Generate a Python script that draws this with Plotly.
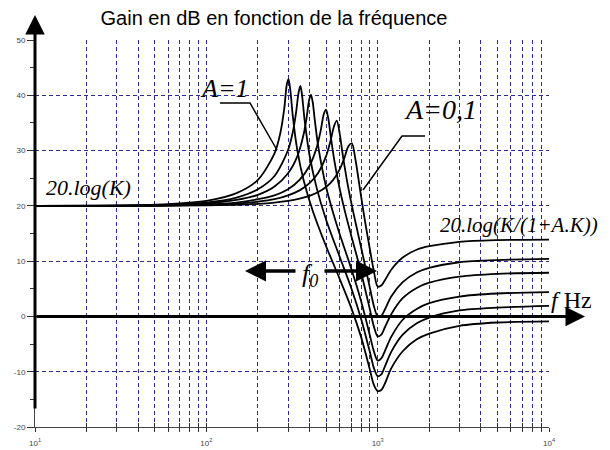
import plotly.graph_objects as go

# Gain curves (dB) versus frequency (Hz), K = 10, f0 = 1000 Hz
freq_a1 = [10, 50, 100, 150, 200, 250, 270, 285, 295, 302, 310, 320, 340, 370, 420, 500, 600, 700,
           800, 900, 950, 1000, 1050, 1100, 1200, 1400, 1700, 2000, 3000, 5000, 10000]
gain_a1 = [20.0, 20.2, 20.9, 22.3, 24.7, 29.5, 33.1, 37.6, 42.0, 42.9, 40.6, 36.1, 30.0, 24.6, 18.9, 12.7, 6.8, 1.6,
           -3.7, -9.6, -12.4, -13.5, -13.3, -12.2, -9.4, -6.3, -4.1, -3.1, -1.7, -1.1, -0.9]

freq_a07 = [10, 50, 100, 150, 200, 250, 300, 320, 335, 345, 354, 362, 375, 400, 440, 500, 600, 700,
            800, 900, 950, 1000, 1050, 1100, 1200, 1400, 1700, 2000, 3000, 5000, 10000]
gain_a07 = [20.0, 20.15, 20.6, 21.5, 23.0, 25.4, 30.1, 33.4, 37.2, 40.4, 41.7, 40.0, 35.4, 29.2, 23.3, 17.5, 10.8, 5.2,
            -0.4, -6.4, -9.3, -10.8, -10.5, -9.1, -6.4, -3.3, -1.2, -0.2, 1.1, 1.6, 1.9]

freq_a05 = [10, 50, 100, 150, 200, 250, 300, 340, 370, 385, 398, 408, 418, 430, 450, 500, 550, 600, 700,
            800, 900, 950, 1000, 1050, 1100, 1200, 1400, 1700, 2000, 3000, 5000, 10000]
gain_a05 = [20.0, 20.1, 20.45, 21.1, 22.0, 23.5, 25.9, 29.0, 33.0, 36.0, 39.1, 40.1, 38.7, 35.4, 30.7, 23.4, 18.7, 14.9, 8.7,
            2.8, -3.4, -6.3, -8.0, -7.6, -6.3, -3.7, -0.6, 1.4, 2.4, 3.6, 4.15, 4.4]

freq_a03 = [10, 50, 100, 150, 200, 250, 300, 350, 400, 440, 465, 485, 500, 515, 535, 560, 600, 650, 700,
            800, 900, 950, 1000, 1050, 1100, 1200, 1400, 1700, 2000, 3000, 5000, 10000]
gain_a03 = [20.0, 20.05, 20.27, 20.6, 21.2, 21.9, 23.0, 24.7, 27.2, 30.5, 33.6, 36.6, 37.4, 35.8, 32.1, 28.0, 23.1, 18.5, 14.7,
            8.0, 1.3, -1.8, -3.6, -3.3, -2.0, 0.4, 3.3, 5.2, 6.1, 7.2, 7.7, 7.9]

freq_a02 = [10, 50, 100, 150, 200, 250, 300, 350, 400, 450, 500, 530, 555, 577, 600, 625, 660, 700, 750,
            800, 850, 900, 950, 1000, 1050, 1100, 1200, 1400, 1700, 2000, 3000, 5000, 10000]
gain_a02 = [20.0, 20.04, 20.18, 20.4, 20.75, 21.2, 21.9, 22.8, 24.1, 26.0, 29.0, 31.7, 34.3, 35.4, 33.1, 29.3, 24.8, 20.7, 16.4,
            12.5, 8.8, 5.2, 1.9, 0.0, 0.1, 1.2, 3.6, 6.2, 8.0, 8.8, 9.8, 10.2, 10.4]

freq_a01 = [10, 50, 100, 150, 200, 250, 300, 350, 400, 450, 500, 550, 600, 640, 675, 707, 740, 780, 820,
            860, 900, 950, 1000, 1050, 1100, 1200, 1400, 1700, 2000, 3000, 5000, 10000]
gain_a01 = [20.0, 20.02, 20.09, 20.2, 20.37, 20.6, 20.9, 21.3, 21.8, 22.5, 23.4, 24.7, 26.6, 28.7, 30.8, 31.3, 28.6, 24.0, 19.6,
            15.7, 12.2, 8.2, 5.4, 5.6, 6.5, 8.45, 10.65, 12.1, 12.7, 13.5, 13.8, 13.9]

curves = [(freq_a1, gain_a1), (freq_a07, gain_a07), (freq_a05, gain_a05),
          (freq_a03, gain_a03), (freq_a02, gain_a02), (freq_a01, gain_a01)]

# Axis ticks / grid
decades = [10, 100, 1000, 10000]
grid_freqs = [m * d for d in [10, 100, 1000] for m in range(1, 10)] + [10000]
grid_text = ["10<sup>%d</sup>" % len(str(f)[1:]) if f in decades else "" for f in grid_freqs]
y_ticks = [-20, -10, 0, 10, 20, 30, 40, 50]

GRID = "#2c2c94"
SERIF = "Liberation Serif"

fig = go.Figure()
for f, g in curves:
    fig.add_trace(go.Scatter(x=f, y=g, mode="lines", line=dict(color="black", width=1.8, shape="spline", smoothing=0.8),
                             hoverinfo="skip", showlegend=False))

# second x axis only to draw the upper half of the crossing ticks
fig.add_trace(go.Scatter(x=[10, 10000], y=[None, None], xaxis="x2", showlegend=False, hoverinfo="skip"))

fig.update_layout(
    width=610, height=450,
    margin=dict(l=35, r=61, t=40, b=23),
    paper_bgcolor="white", plot_bgcolor="white",
    showlegend=False,
    title=dict(text="Gain en dB en fonction de la fréquence", x=274 / 610, xanchor="center",
               y=1 - 18 / 450, yanchor="middle", font=dict(family="Liberation Sans", size=20, color="black")),
    xaxis=dict(type="log", range=[1, 4], tickvals=grid_freqs, ticktext=grid_text, automargin=False,
               showgrid=True, gridcolor=GRID, gridwidth=1, griddash="4px,3px",
               ticks="outside", ticklen=4, tickcolor="#333", tickwidth=1, ticklabelstandoff=4,
               showline=True, linecolor="#444", linewidth=1,
               tickfont=dict(family="Liberation Sans", size=8, color="#444"), zeroline=False),
    xaxis2=dict(type="log", range=[1, 4], overlaying="x", anchor="y", side="bottom", automargin=False,
                tickvals=grid_freqs, showticklabels=False, showgrid=False,
                ticks="inside", ticklen=4, tickcolor="#333", tickwidth=1, showline=False, zeroline=False),
    yaxis=dict(range=[-20, 50], tickvals=y_ticks, ticktext=[str(v) for v in y_ticks], automargin=False,
               showgrid=True, gridcolor=GRID, gridwidth=1, griddash="4px,3px",
               ticks="outside", ticklen=7, tickcolor="#333", tickwidth=1,
               minor=dict(dtick=5, tick0=-20, ticks="outside", ticklen=4, tickcolor="#333", showgrid=False),
               showline=True, linecolor="#444", linewidth=1, zeroline=False,
               tickfont=dict(family="Liberation Sans", size=8, color="#444")),
)

def px(xp):
    return (xp - 35) / 514

def py(yp):
    return (427 - yp) / 387

def label(x, y, text, size):
    return dict(x=px(x), y=py(y), xref="paper", yref="paper", text=text, showarrow=False,
                xanchor="center", yanchor="middle", font=dict(family=SERIF, size=size, color="black"))

annotations = [
    # axis arrows
    dict(x=0, y=py(15), xref="paper", yref="paper", ax=0, ay=395, axref="pixel", ayref="pixel",
         showarrow=True, arrowhead=2, arrowsize=1.3, arrowwidth=3, arrowcolor="black", text=""),
    dict(x=px(585), y=0, xref="paper", yref="y", ax=-550, ay=0,
         showarrow=True, arrowhead=2, arrowsize=1.3, arrowwidth=3, arrowcolor="black", text=""),
    # f0 arrows
    dict(x=px(245), y=py(271), xref="paper", yref="paper", ax=52, ay=0,
         showarrow=True, arrowhead=2, arrowsize=1.2, arrowwidth=3.5, arrowcolor="black", text=""),
    dict(x=px(377), y=py(271), xref="paper", yref="paper", ax=-54, ay=0,
         showarrow=True, arrowhead=2, arrowsize=1.2, arrowwidth=3.5, arrowcolor="black", text=""),
    # labels
    label(224, 88, "<i>A=1</i>", 26),
    label(440, 110, "<i>A=0,1</i>", 28),
    label(88, 187, "<i>20.log(K)</i>", 22),
    label(519, 225, "<i>20.log(K/(1+A.K))</i>", 21),
    label(571, 300, "<i>f</i> Hz", 24),
    label(310, 275, "<i>f<sub>0</sub></i>", 26),
]
fig.update_layout(annotations=annotations)

# leader lines from the A labels to their curves
fig.add_shape(type="path", xref="paper", yref="paper",
              path="M %f %f L %f %f L %f %f" % (px(220), py(103), px(250), py(103), px(277), py(150)),
              line=dict(color="black", width=1.5))
fig.add_shape(type="path", xref="paper", yref="paper",
              path="M %f %f L %f %f L %f %f" % (px(425), py(136), px(402), py(136), px(363), py(190)),
              line=dict(color="black", width=1.5))

fig.write_html("out.html")
